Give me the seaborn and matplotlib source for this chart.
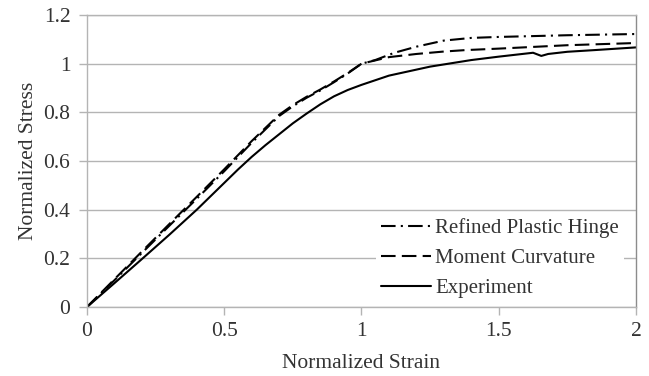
import matplotlib
matplotlib.use("Agg")
import matplotlib.pyplot as plt
import numpy as np
import pandas as pd
import seaborn as sns

# Normalized stress-strain curves
rph_strain = [0.0, 0.1, 0.2, 0.3, 0.4, 0.5, 0.6, 0.7, 0.75, 0.8, 0.85, 0.9, 0.95, 1.0,
              1.05, 1.12, 1.2, 1.3, 1.4, 1.5, 1.75, 2.0]
rph_stress = [0.0, 0.11, 0.222, 0.334, 0.445, 0.558, 0.675, 0.785, 0.825, 0.86, 0.89, 0.924, 0.96, 1.0,
              1.015, 1.045, 1.07, 1.095, 1.106, 1.11, 1.117, 1.122]

mc_strain = [0.0, 0.1, 0.2, 0.3, 0.4, 0.5, 0.6, 0.7, 0.75, 0.8, 0.85, 0.9, 0.95, 1.0,
             1.1, 1.2, 1.3, 1.38, 1.5, 1.75, 2.0]
mc_stress = [0.0, 0.114, 0.228, 0.341, 0.453, 0.566, 0.682, 0.79, 0.83, 0.864, 0.894, 0.927, 0.962, 1.0,
             1.027, 1.04, 1.05, 1.056, 1.062, 1.076, 1.085]

exp_strain = [0.0, 0.1, 0.2, 0.3, 0.4, 0.45, 0.5, 0.55, 0.6, 0.65, 0.7, 0.75, 0.8, 0.85,
              0.9, 0.95, 1.0, 1.1, 1.25, 1.4, 1.5, 1.625, 1.655, 1.68, 1.75, 1.85, 2.0]
exp_stress = [0.0, 0.098, 0.197, 0.297, 0.40, 0.455, 0.51, 0.565, 0.617, 0.665, 0.71, 0.755, 0.795, 0.833,
              0.866, 0.892, 0.913, 0.951, 0.988, 1.015, 1.029, 1.045, 1.032, 1.040, 1.049, 1.056, 1.067]

labels = ["Refined Plastic Hinge", "Moment Curvature", "Experiment"]
x_ticks = [0, 0.5, 1, 1.5, 2]
y_ticks = [0, 0.2, 0.4, 0.6, 0.8, 1.0, 1.2]
x_tick_labels = ["0", "0.5", "1", "1.5", "2"]
y_tick_labels = ["0", "0.2", "0.4", "0.6", "0.8", "1", "1.2"]

df = pd.concat([
    pd.DataFrame({"strain": rph_strain, "stress": rph_stress, "model": labels[0]}),
    pd.DataFrame({"strain": mc_strain, "stress": mc_stress, "model": labels[1]}),
    pd.DataFrame({"strain": exp_strain, "stress": exp_stress, "model": labels[2]}),
], ignore_index=True)

sns.set_theme(style="white")
plt.rcParams["font.family"] = ["Liberation Serif", "DejaVu Serif"]

grid_c = "#b4b4b4"
text_c = "#333333"

fig = plt.figure(figsize=(6.49, 3.76), dpi=100)
ax = fig.add_axes([0.134, 0.1835, 0.846, 0.7765])

sns.lineplot(
    data=df, x="strain", y="stress", style="model", style_order=labels,
    dashes={labels[0]: (7, 2.5, 1, 2.5), labels[1]: (7, 3), labels[2]: ""},
    color="black", linewidth=1.5, sort=False, estimator=None, ax=ax,
)

ax.set_xlim(0, 2)
ax.set_ylim(0, 1.2)
ax.set_xticks(x_ticks)
ax.set_xticklabels(x_tick_labels)
ax.set_yticks(y_ticks)
ax.set_yticklabels(y_tick_labels)

ax.grid(False)
ax.yaxis.grid(True, color=grid_c, linewidth=1.0)
ax.set_axisbelow(True)
for side in ["left", "top", "right", "bottom"]:
    ax.spines[side].set_visible(True)
    ax.spines[side].set_color(grid_c)
    ax.spines[side].set_linewidth(1.0)
ax.spines["right"].set_color("#8c8c8c")

ax.tick_params(axis="both", which="major", direction="out", length=6, width=1.0,
               color=grid_c, labelsize=15.5, labelcolor=text_c)
ax.tick_params(axis="x", bottom=True, pad=5)
ax.tick_params(axis="y", left=True, pad=6)

ax.set_xlabel("Normalized Strain", fontsize=15.5, color=text_c, labelpad=9)
ax.set_ylabel("Normalized Stress", fontsize=15.5, color=text_c, labelpad=4)

leg = ax.legend(loc="lower right", bbox_to_anchor=(0.986, -0.002), fontsize=15,
                frameon=True, facecolor="white", edgecolor="none", framealpha=1.0,
                handlelength=2.4, handletextpad=0.2, labelspacing=0.5,
                borderpad=0.25, borderaxespad=0.2)
for t in leg.get_texts():
    t.set_color(text_c)
leg.set_title(None)

fig.savefig("out.png", dpi=100, facecolor="white")
